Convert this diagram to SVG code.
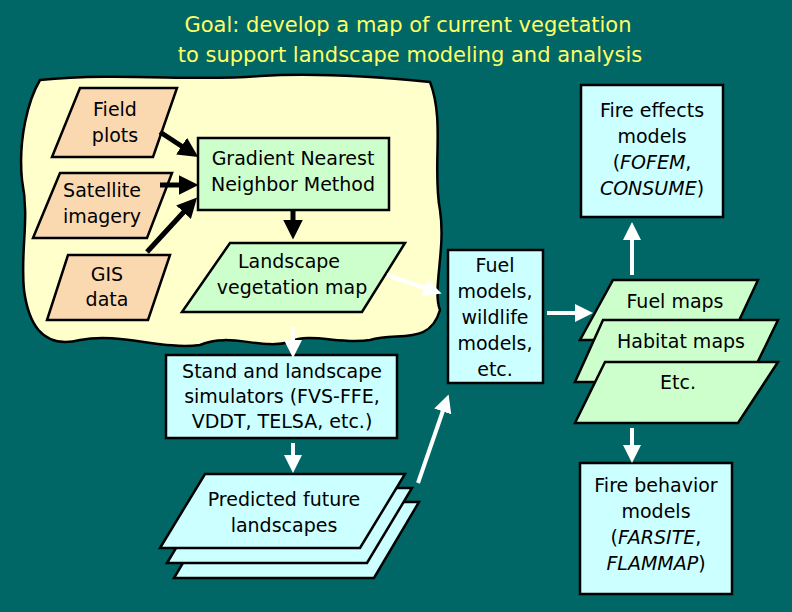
<svg xmlns="http://www.w3.org/2000/svg" width="792" height="612" viewBox="0 0 792 612">
<style>
text{font-family:"DejaVu Sans","Liberation Sans",sans-serif;font-size:19px;text-anchor:middle;fill:#000}
.t{fill:#FFFF66;font-size:21px}
.s{stroke:#000;stroke-width:2.5}
.tan{fill:#FBD9B0}.gr{fill:#CCFFCC}.cy{fill:#CCFFFF}
.ba{stroke:#000;stroke-width:5;fill:none;marker-end:url(#bk)}
.wa{stroke:#fff;stroke-width:4;fill:none;marker-end:url(#wh)}
</style>
<defs>
<marker id="bk" markerWidth="4" markerHeight="4" refX="2.5" refY="2" orient="auto"><path d="M0,0L4,2L0,4z" fill="#000"/></marker>
<marker id="wh" markerWidth="4.5" markerHeight="4.5" refX="2.5" refY="2.25" orient="auto"><path d="M0,0L4.5,2.25L0,4.5z" fill="#fff"/></marker>
</defs>
<rect width="792" height="612" fill="#006666"/>
<text class="t" x="408" y="32">Goal: develop a map of current vegetation</text>
<text class="t" x="410" y="62">to support landscape modeling and analysis</text>
<g id="blob"><path class="s" fill="#FFFFCC" d="M40,80 C120,72 200,82 260,76 C320,72 390,78 430,82 C445,120 432,170 440,210 C446,250 432,290 440,310 C430,345 400,332 370,340 C340,345 310,332 290,342 C260,350 230,332 200,345 C160,350 120,332 80,340 C40,350 28,320 24,290 C20,250 30,220 22,180 C18,140 28,100 40,80Z"/></g>
<g id="field"><polygon class="s tan" points="80,88 177,88 153,157 52,157"/><text x="115" y="116">Field</text><text x="115" y="142">plots</text></g>
<g id="sat"><polygon class="s tan" points="60,173 172,173 147,238 33,238"/><text x="102" y="197">Satellite</text><text x="102" y="223">imagery</text></g>
<g id="gis"><polygon class="s tan" points="68,255 170,255 148,320 47,320"/><text x="107" y="281">GIS</text><text x="107" y="306">data</text></g>
<g id="gnn"><rect class="s gr" x="198" y="138" width="191" height="72"/><text x="293" y="165">Gradient Nearest</text><text x="293" y="191">Neighbor Method</text></g>
<g id="veg"><polygon class="s gr" points="230,243 405,243 362,312 182,312"/><text x="289" y="268">Landscape</text><text x="292" y="294">vegetation map</text></g>
<g id="stand"><rect class="s cy" x="166" y="355" width="231" height="83"/><text x="282" y="378">Stand and landscape</text><text x="282" y="403">simulators (FVS-FFE,</text><text x="282" y="428">VDDT, TELSA, etc.)</text></g>
<g id="pred">
<polygon class="s cy" points="219,502 419,502 374,578 174,578"/>
<polygon class="s cy" points="212,488 412,488 367,563 167,563"/>
<polygon class="s cy" points="205,474 405,474 360,548 160,548"/>
<text x="284" y="506">Predicted future</text><text x="284" y="532">landscapes</text></g>
<g id="fuelmod"><rect class="s cy" x="448" y="250" width="95" height="133"/><text x="495" y="272">Fuel</text><text x="495" y="298">models,</text><text x="495" y="324">wildlife</text><text x="495" y="350">models,</text><text x="495" y="376">etc.</text></g>
<g id="maps">
<polygon class="s gr" points="613,280 758,280 730,340 580,340"/>
<polygon class="s gr" points="603,320 778,320 748,382 575,382"/>
<polygon class="s gr" points="605,362 778,362 738,423 575,423"/>
<text x="675" y="308">Fuel maps</text><text x="681" y="348">Habitat maps</text><text x="678" y="389">Etc.</text></g>
<g id="fireeff"><rect class="s cy" x="581" y="85" width="142" height="132"/><text x="652" y="117">Fire effects</text><text x="652" y="143">models</text><text x="652" y="169">(<tspan font-style="italic">FOFEM</tspan>,</text><text x="652" y="195"><tspan font-style="italic">CONSUME</tspan>)</text></g>
<g id="firebeh"><rect class="s cy" x="580" y="463" width="152" height="131"/><text x="656" y="492">Fire behavior</text><text x="656" y="518">models</text><text x="656" y="544">(<tspan font-style="italic">FARSITE</tspan>,</text><text x="656" y="570"><tspan font-style="italic">FLAMMAP</tspan>)</text></g>
<g id="connectors">
<line class="ba" x1="160" y1="132" x2="192" y2="153"/>
<line class="ba" x1="160" y1="185" x2="191" y2="185"/>
<line class="ba" x1="147" y1="252" x2="192" y2="203"/>
<line class="ba" x1="293" y1="210" x2="293" y2="232"/>
<line class="wa" x1="387" y1="275" x2="434" y2="291"/>
<line class="wa" x1="293" y1="327" x2="293" y2="350"/>
<line class="wa" x1="293" y1="443" x2="293" y2="465"/>
<line class="wa" x1="418" y1="483" x2="446" y2="402"/>
<line class="wa" x1="547" y1="313" x2="585" y2="313"/>
<line class="wa" x1="632" y1="275" x2="632" y2="230"/>
<line class="wa" x1="632" y1="428" x2="632" y2="455"/>
</g>
</svg>
